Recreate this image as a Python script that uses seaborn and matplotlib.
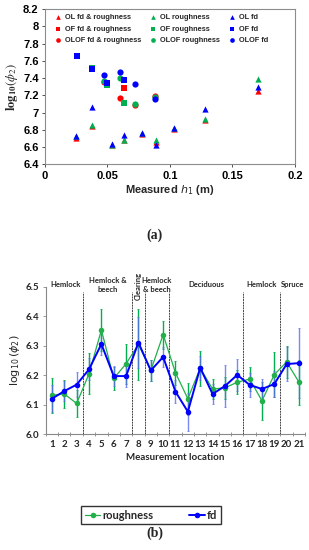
import matplotlib
matplotlib.use("Agg")
import matplotlib.pyplot as plt
import pandas as pd
import seaborn as sns

# (a) scatter data: log10(phi2) vs measured h1
ol_x = [0.025, 0.038, 0.054, 0.063, 0.078, 0.089, 0.103, 0.128, 0.170]
ol_fd_rough = [6.71, 6.85, 6.62, 6.68, 6.75, 6.66, 6.81, 6.92, 7.25]
ol_rough = [6.73, 6.86, 6.63, 6.68, 6.76, 6.68, 6.82, 6.93, 7.39]
ol_fd = [6.73, 7.06, 6.64, 6.74, 6.76, 6.63, 6.82, 7.04, 7.30]

of_x = [0.026, 0.038, 0.050, 0.063]
of_fd_rough = [7.65, 7.51, 7.32, 7.28]
of_rough = [7.65, 7.52, 7.32, 7.11]
of_fd = [7.65, 7.51, 7.34, 7.38]

olof_x = [0.047, 0.060, 0.072, 0.088]
olof_fd_rough = [7.36, 7.17, 7.09, 7.19]
olof_rough = [7.37, 7.40, 7.10, 7.18]
olof_fd = [7.44, 7.47, 7.33, 7.16]

# (b) per-location data
locations = list(range(1, 22))
rough_mean = [6.132, 6.136, 6.104, 6.205, 6.354, 6.189, 6.239, 6.305, 6.216, 6.338, 6.208,
              6.120, 6.224, 6.153, 6.157, 6.176, 6.187, 6.113, 6.202, 6.245, 6.176]
rough_err = [0.060, 0.047, 0.045, 0.070, 0.070, 0.040, 0.068, 0.120, 0.035, 0.048, 0.040,
             0.055, 0.060, 0.035, 0.037, 0.040, 0.040, 0.065, 0.077, 0.055, 0.077]
fd_mean = [6.120, 6.146, 6.168, 6.220, 6.306, 6.197, 6.197, 6.311, 6.216, 6.262, 6.144,
           6.076, 6.225, 6.136, 6.163, 6.201, 6.167, 6.153, 6.170, 6.238, 6.241]
fd_err = [0.045, 0.035, 0.042, 0.037, 0.037, 0.035, 0.036, 0.087, 0.035, 0.035, 0.040,
          0.065, 0.040, 0.035, 0.070, 0.055, 0.040, 0.035, 0.045, 0.057, 0.118]
dividers = [3.5, 7.5, 8.5, 10.5, 16.5, 19.5]
zone_labels = ["Hemlock", "Hemlock &\nbeech", "Hemlock\n& beech", "Deciduous", "Hemlock", "Spruce"]
zone_x = [2.1, 5.5, 9.5, 13.5, 18.0, 20.5]

RED, GREEN, BLUE = "#FF0000", "#00B050", "#0000FF"

sns.set_style("white")
plt.rcParams["font.family"] = ["Liberation Sans", "DejaVu Sans"]

fig = plt.figure(figsize=(3.09, 5.5), dpi=100)

# ---------------- (a) ----------------
ax1 = fig.add_axes([0.1456, 0.701, 0.8091, 0.2827])
series = [
    (ol_x, ol_fd_rough, RED, "^", "OL fd & roughness"),
    (of_x, of_fd_rough, RED, "s", "OF fd & roughness"),
    (olof_x, olof_fd_rough, RED, "o", "OLOF fd & roughness"),
    (ol_x, ol_rough, GREEN, "^", "OL roughness"),
    (of_x, of_rough, GREEN, "s", "OF roughness"),
    (olof_x, olof_rough, GREEN, "o", "OLOF roughness"),
    (ol_x, ol_fd, BLUE, "^", "OL fd"),
    (of_x, of_fd, BLUE, "s", "OF fd"),
    (olof_x, olof_fd, BLUE, "o", "OLOF fd"),
]
for xs, ys, col, mk, lab in series:
    sns.scatterplot(x=xs, y=ys, color=col, marker=mk, s=20, linewidth=0, label=lab, ax=ax1)

ax1.set_xlim(0, 0.2)
ax1.set_ylim(6.4, 8.2)
ax1.set_xticks([0, 0.05, 0.1, 0.15, 0.2])
ax1.set_xticklabels(["0", "0.05", "0.1", "0.15", "0.2"])
ax1.set_yticks([6.4, 6.6, 6.8, 7.0, 7.2, 7.4, 7.6, 7.8, 8.0, 8.2])
ax1.set_yticklabels(["6.4", "6.6", "6.8", "7", "7.2", "7.4", "7.6", "7.8", "8", "8.2"])
ax1.tick_params(labelsize=8, length=2.5, width=0.6, direction="out", pad=2,
                bottom=True, left=True, colors="#333333")
for lab in ax1.get_xticklabels() + ax1.get_yticklabels():
    lab.set_fontweight("bold")
    lab.set_color("black")
for sp in ax1.spines.values():
    sp.set_color("#8c8c8c")
    sp.set_linewidth(0.8)
ax1.set_xlabel("Measured $h_1$ (m)", fontsize=8, fontweight="bold", labelpad=2)
ax1.set_ylabel(r"$\mathbf{log}_{\mathbf{10}}(\phi_2)$", fontsize=9,
               math_fontfamily="stix", labelpad=2)
ax1.legend(ncol=3, loc="upper left", bbox_to_anchor=(0.0, 1.0), frameon=False,
           prop={"size": 5.3, "weight": "bold"}, handletextpad=0.0,
           columnspacing=0.6, labelspacing=0.6, markerscale=0.75, borderaxespad=0.3)

fig.text(0.5, 0.573, "(a)", ha="center", va="center", fontsize=10,
         fontweight="bold", family="Liberation Serif")

# ---------------- (b) ----------------
ax2 = fig.add_axes([0.1482, 0.2109, 0.8395, 0.2673])
df_b = pd.DataFrame({"location": locations * 2,
                     "value": rough_mean + fd_mean,
                     "series": ["roughness"] * 21 + ["fd"] * 21})

ax2.errorbar(locations, rough_mean, yerr=rough_err, fmt="none", ecolor=GREEN,
             elinewidth=1.0, capsize=1.0, capthick=0.6, zorder=2)
ax2.errorbar(locations, fd_mean, yerr=fd_err, fmt="none", ecolor="#5A6BEF",
             elinewidth=1.0, capsize=1.0, capthick=0.6, alpha=0.8, zorder=2)
sns.lineplot(data=df_b[df_b.series == "roughness"], x="location", y="value",
             color="#22B04B", marker="o", markersize=4, markeredgewidth=0,
             linewidth=0.9, label="roughness", ax=ax2, zorder=3)
sns.lineplot(data=df_b[df_b.series == "fd"], x="location", y="value",
             color=BLUE, marker="o", markersize=4, markeredgewidth=0,
             linewidth=1.4, label="fd", ax=ax2, zorder=4)

for d in dividers:
    ax2.plot([d, d], [6.0, 6.482], color="#444444", linewidth=0.7,
             linestyle=(0, (2, 0.8)), clip_on=False, zorder=1)

for lab, xv in zip(zone_labels, zone_x):
    ax2.text(xv, 6.508, lab, ha="center", va="center", fontsize=5.5,
             fontweight="bold", family="Lato", linespacing=1.3)
ax2.text(8.0, 6.505, "Clearing", ha="center", va="center", rotation=90,
         fontsize=5.5, fontweight="bold", family="Lato")

ax2.set_xlim(0.5, 21.5)
ax2.set_ylim(6.0, 6.5)
ax2.set_xticks(locations)
ax2.set_xticks([i + 0.5 for i in range(0, 22)], minor=True)
ax2.set_yticks([6.0, 6.1, 6.2, 6.3, 6.4, 6.5])
ax2.set_yticklabels(["6.0", "6.1", "6.2", "6.3", "6.4", "6.5"])
ax2.tick_params(axis="x", which="major", length=0, pad=4)
ax2.tick_params(axis="x", which="minor", length=2.5, width=0.6, color="#888888",
                direction="inout", bottom=True)
ax2.tick_params(axis="y", length=2.5, width=0.6, color="#888888", left=True, pad=2)
for lab in ax2.get_xticklabels() + ax2.get_yticklabels():
    lab.set_fontweight("bold")
    lab.set_fontfamily("Lato")
    lab.set_fontsize(7)
sns.despine(ax=ax2)
for sp in ("left", "bottom"):
    ax2.spines[sp].set_color("#888888")
    ax2.spines[sp].set_linewidth(0.8)
ax2.set_xlabel("Measurement location", fontsize=7, fontweight="bold",
               family="Lato", labelpad=3)
ax2.set_ylabel(r"$\log_{10}(\phi_2)$", fontsize=8, math_fontfamily="dejavusans", labelpad=3)

handles, labels = ax2.get_legend_handles_labels()
ax2.get_legend().remove()
fig.legend(handles, labels, ncol=2, loc="center", bbox_to_anchor=(0.489, 0.0636),
           frameon=True, fancybox=False, edgecolor="#333333", framealpha=1,
           prop={"family": "Lato", "weight": "bold", "size": 8},
           handlelength=1.4, handletextpad=0.2, columnspacing=3.2,
           borderpad=0.35)

fig.text(0.5, 0.031, "(b)", ha="center", va="center", fontsize=10,
         fontweight="bold", family="Liberation Serif")

fig.savefig("out.png", dpi=100)
